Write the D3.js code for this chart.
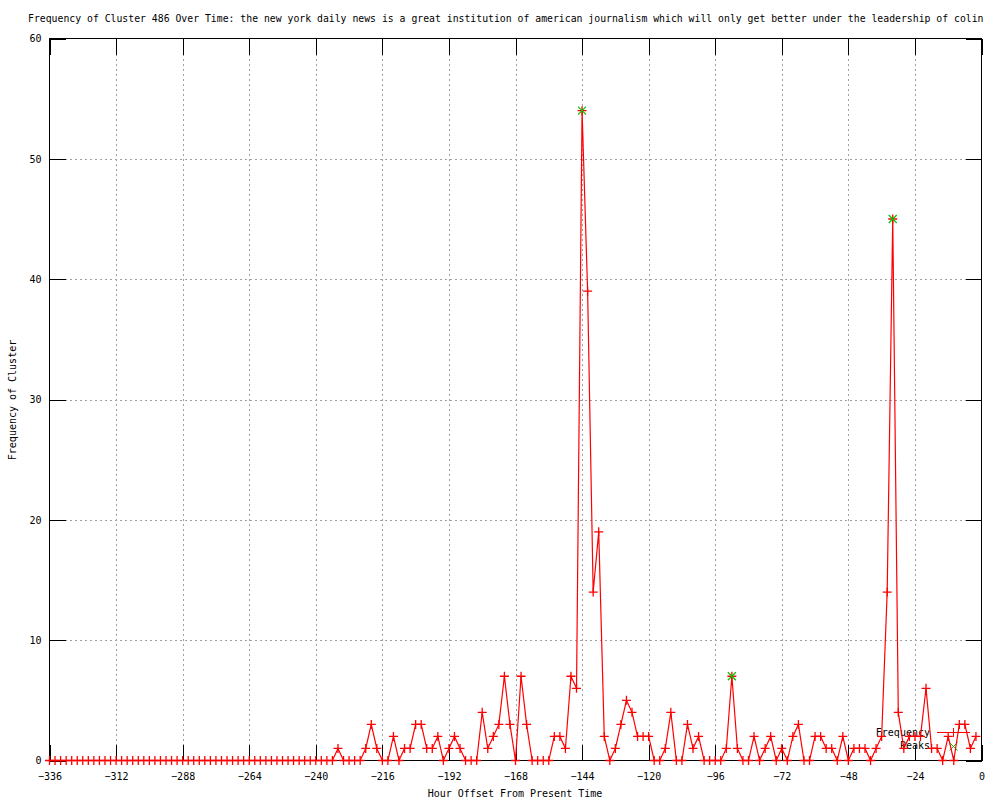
<!DOCTYPE html>
<html>
<head>
<meta charset="utf-8">
<script src="https://cdn.jsdelivr.net/npm/d3@7/dist/d3.min.js"></script>
<style>
  html, body { margin: 0; padding: 0; background: #fff; }
  svg { display: block; }
  text { font-family: "DejaVu Sans Mono", "Liberation Mono", monospace; font-size: 10px; fill: #000; }
</style>
</head>
<body>
<svg id="chart" width="1000" height="800"></svg>
<script>
// ---- data ----
const titleText = "Frequency of Cluster 486 Over Time: the new york daily news is a great institution of american journalism which will only get better under the leadership of colin";
const xLabel = "Hour Offset From Present Time";
const yLabel = "Frequency of Cluster";
const seriesNames = ["Frequency", "Peaks"];

const firstHour = -336;
const hourStep = 2;
// frequency per 2-hour bin, from -336 to -2
const frequencyValues = [
  0,0,0,0,0,0,0,0,0,0, 0,0,0,0,0,0,0,0,0,0,
  0,0,0,0,0,0,0,0,0,0, 0,0,0,0,0,0,0,0,0,0,
  0,0,0,0,0,0,0,0,0,0, 0,0,
  1,0,0,0,0,1,3,1,0,0, 2,0,1,1,3,3,1,1,2,0,
  1,2,1,0,0,0,4,1,2,3, 7,3,0,7,3,0,0,0,0,2,
  2,1,7,6,54,39,14,19,2,0, 1,3,5,4,2,2,2,0,0,1,
  4,0,0,3,1,2,0,0,0,0, 1,7,1,0,0,2,0,1,2,0,
  1,0,2,3,0,0,2,2,1,1, 0,2,0,1,1,1,0,1,2,14,
  45,4,1,2,2,2,6,1,1,0, 2,0,3,3,1,2
];
const peakHours = [-144, -90, -32];
const peakValues = [54, 7, 45];

const xTicks = [-336, -312, -288, -264, -240, -216, -192, -168, -144, -120, -96, -72, -48, -24, 0];
const yTicks = [0, 10, 20, 30, 40, 50, 60];

// ---- layout ----
const L = 49.5, R = 981.5, T = 38.5, B = 760.5;
const tickLen = 16;
const svg = d3.select("#chart");

const x = d3.scaleLinear().domain([-336, 0]).range([L, R]);
const y = d3.scaleLinear().domain([0, 60]).range([B, T]);

const freq = frequencyValues.map((v, i) => ({ h: firstHour + i * hourStep, v }));
const peaks = peakHours.map((h, i) => ({ h, v: peakValues[i] }));

// grid
const grid = svg.append("g").attr("shape-rendering", "crispEdges")
  .attr("stroke", "#a0a0a0").attr("stroke-width", 1).attr("stroke-dasharray", "2,3");
grid.selectAll("line.vx").data(xTicks.filter(t => t > -336 && t < 0)).join("line")
  .attr("x1", d => Math.round(x(d)) + 0.5).attr("x2", d => Math.round(x(d)) + 0.5)
  .attr("y1", T).attr("y2", B);
grid.selectAll("line.hy").data(yTicks.filter(t => t > 0 && t < 60)).join("line")
  .attr("y1", d => Math.round(y(d)) + 0.5).attr("y2", d => Math.round(y(d)) + 0.5)
  .attr("x1", L).attr("x2", R);

// axes (d3 axes, mirrored)
const xb = svg.append("g").attr("transform", `translate(0,${B})`)
  .call(d3.axisBottom(x).tickValues(xTicks).tickSize(0).tickPadding(12).tickFormat(d3.format("d")));
xb.select(".domain").remove();
xb.selectAll("text").attr("font-family", null).attr("font-size", null);

const yl = svg.append("g").attr("transform", `translate(${L},0)`)
  .call(d3.axisLeft(y).tickValues(yTicks).tickSize(0).tickPadding(8).tickFormat(d3.format("d")));
yl.select(".domain").remove();
yl.selectAll("text").attr("font-family", null).attr("font-size", null);

// tick marks (inward, mirrored)
const tk = svg.append("g").attr("stroke", "#000").attr("shape-rendering", "crispEdges");
xTicks.forEach(t => {
  const px = Math.round(x(t)) + 0.5;
  tk.append("line").attr("x1", px).attr("x2", px).attr("y1", B).attr("y2", B - tickLen);
  tk.append("line").attr("x1", px).attr("x2", px).attr("y1", T).attr("y2", T + tickLen);
});
yTicks.forEach(t => {
  const py = Math.round(y(t)) + 0.5;
  tk.append("line").attr("y1", py).attr("y2", py).attr("x1", L).attr("x2", L + tickLen);
  tk.append("line").attr("y1", py).attr("y2", py).attr("x1", R).attr("x2", R - tickLen);
});

// border
svg.append("rect").attr("x", L).attr("y", T).attr("width", R - L).attr("height", B - T)
  .attr("fill", "none").attr("stroke", "#000").attr("shape-rendering", "crispEdges");

// titles
svg.append("text").attr("x", 28).attr("y", 22).style("font-size", "9.8px").text(titleText);
svg.append("text").attr("x", 515).attr("y", 797).attr("text-anchor", "middle").text(xLabel);
svg.append("text").attr("transform", "translate(16,400) rotate(-90)").attr("text-anchor", "middle").text(yLabel);

// legend
const lg = svg.append("g");
lg.append("text").attr("x", 930).attr("y", 736).attr("text-anchor", "end").text(seriesNames[0]);
lg.append("text").attr("x", 930).attr("y", 749).attr("text-anchor", "end").text(seriesNames[1]);
lg.append("line").attr("x1", 937).attr("x2", 970).attr("y1", 732.5).attr("y2", 732.5)
  .attr("stroke", "#ff0000").attr("shape-rendering", "crispEdges");
lg.append("path").attr("d", "M949,732.5h9M953.5,728v9").attr("stroke", "#ff0000").attr("shape-rendering", "crispEdges");
lg.append("path").attr("d", "M949.5,742.5l8,8M957.5,742.5l-8,8").attr("stroke", "#00c000");

// frequency line
const line = d3.line().x(d => x(d.h)).y(d => y(d.v));
svg.append("path").datum(freq).attr("d", line)
  .attr("fill", "none").attr("stroke", "#ff0000").attr("stroke-width", 1.2);

// plus markers
const ps = 4.5;
svg.append("g").attr("stroke", "#ff0000").attr("stroke-width", 1.3)
  .selectAll("path").data(freq).join("path")
  .attr("d", d => {
    const cx = x(d.h), cy = y(d.v);
    return `M${cx - ps},${cy}H${cx + ps}M${cx},${cy - ps}V${cy + ps}`;
  });

// peak markers (x)
const xs = 4;
svg.append("g").attr("stroke", "#00c000").attr("stroke-width", 1.2)
  .selectAll("path").data(peaks).join("path")
  .attr("d", d => {
    const cx = x(d.h), cy = y(d.v);
    return `M${cx - xs},${cy - xs}L${cx + xs},${cy + xs}M${cx + xs},${cy - xs}L${cx - xs},${cy + xs}`;
  });
</script>
</body>
</html>
